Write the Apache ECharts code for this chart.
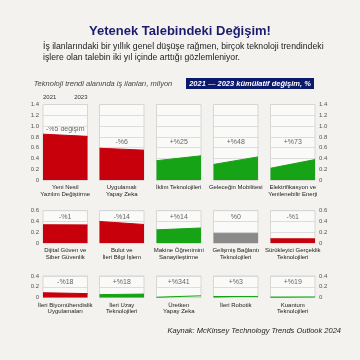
<!DOCTYPE html>
<html><head><meta charset="utf-8">
<script src="https://cdn.jsdelivr.net/npm/echarts@6/dist/echarts.min.js"></script>
<style>html,body{margin:0;padding:0;background:#f3f2ef;}#c{width:360px;height:360px;}</style>
</head><body><div id="c"></div>
<script>
const years = ['2021', '2023'];
const categories = [
  'Yeni Nesil\nYazılım Değiştirme', 'Uygulamalı\nYapay Zeka', 'İklim Teknolojileri', 'Geleceğin Mobilitesi', 'Elektrifikasyon ve\nYenilenebilir Enerji',
  'Dijital Güven ve\nSiber Güvenlik', 'Bulut ve\nİleri Bilgi İşlem', 'Makine Öğrenimini\nSanayileştirme', 'Gelişmiş Bağlantı\nTeknolojileri', 'Sürükleyici Gerçeklik\nTeknolojileri',
  'İleri Biyomühendislik\nUygulamaları', 'İleri Uzay\nTeknolojileri', 'Üretken\nYapay Zeka', 'İleri Robotik', 'Kuantum\nTeknolojileri'
];
const postings2021 = [0.85, 0.59, 0.36, 0.29, 0.22, 0.34, 0.40, 0.245, 0.18, 0.08, 0.09, 0.055, 0.0075, 0.02, 0.01];
const postings2023 = [0.81, 0.555, 0.45, 0.43, 0.38, 0.337, 0.345, 0.28, 0.18, 0.079, 0.074, 0.065, 0.033, 0.021, 0.012];
const changePct = [-5, -6, 25, 48, 73, -1, -14, 14, 0, -1, -18, 18, 341, 3, 19];
const rowMax = [1.4, 0.6, 0.4];

const FONT = "'Liberation Sans Narrow','Liberation Sans',Arial,sans-serif";
const colLeft = [43, 99.5, 156.5, 213.5, 270.5];
const panelW = 44.5;
const rowTop = [104.5, 210.7, 276];
const pxPerStep = 10.8;
const RED = '#c8000b', GREEN = '#16a316', GREY = '#8a8a8a';

const grid = [], xAxis = [], yAxis = [], series = [], graphic = [];

for (let i = 0; i < categories.length; i++) {
  const r = Math.floor(i / 5), c = i % 5;
  const h = rowMax[r] / 0.2 * pxPerStep;
  const top = rowTop[r];
  grid.push({left: colLeft[c], top: top, width: panelW, height: h, show: true,
    borderColor: '#cfcfcf', borderWidth: 0.8, backgroundColor: '#fafaf8'});
  xAxis.push({gridIndex: i, type: 'category', data: years, boundaryGap: false,
    position: 'top',
    axisLine: {show: false}, axisTick: {show: false},
    axisLabel: {show: i === 0, fontSize: 6, color: '#333', fontFamily: FONT, margin: 4,
      alignMinLabel: 'left', alignMaxLabel: 'right'},
    splitLine: {show: false}});
  const showY = (c === 0 || c === 4);
  yAxis.push({gridIndex: i, type: 'value', min: 0, max: rowMax[r], interval: 0.2,
    position: c === 4 ? 'right' : 'left',
    axisLine: {show: false}, axisTick: {show: false},
    axisLabel: {show: showY, fontSize: 6, color: '#555', fontFamily: FONT, margin: 4,
      formatter: v => v === 0 ? '0' : v.toFixed(1)},
    splitLine: {show: true, lineStyle: {color: '#d6d6d6', width: 0.8}}});
  const ch = changePct[i];
  const col = ch > 0 ? GREEN : (ch < 0 ? RED : GREY);
  series.push({type: 'line', xAxisIndex: i, yAxisIndex: i, data: [postings2021[i], postings2023[i]],
    symbol: 'none', silent: true, lineStyle: {color: col, width: 1}, areaStyle: {color: col, opacity: 1}});
  const lbl = (ch > 0 ? '+' : (ch < 0 ? '-' : '')) + '%' + Math.abs(ch) + (i === 0 ? ' değişim' : '');
  const ly = r === 0 ? (i === 0 ? top + 24.5 : top + 38) : top + 6.5;
  graphic.push({type: 'text', x: colLeft[c] + panelW / 2, y: ly, silent: true,
    style: {text: lbl, fill: '#666', font: '7px ' + FONT, align: 'center', verticalAlign: 'middle'}});
  graphic.push({type: 'text', x: colLeft[c] + panelW / 2, y: top + h + 4, silent: true,
    style: {text: categories[i], fill: '#222', font: '6px ' + FONT, align: 'center', verticalAlign: 'top', lineHeight: 6.5}});
}

graphic.push(
  {type: 'text', x: 180, y: 31, style: {text: 'Yetenek Talebindeki Değişim!', fill: '#1c1c6e',
    font: 'bold 13px ' + FONT, align: 'center', verticalAlign: 'middle'}},
  {type: 'text', x: 43, y: 47, style: {text: 'İş ilanlarındaki bir yıllık genel düşüşe rağmen, birçok teknoloji trendindeki',
    fill: '#1a1a1a', font: '8.7px ' + FONT, align: 'left', verticalAlign: 'middle'}},
  {type: 'text', x: 43, y: 58, style: {text: 'işlere olan talebin iki yıl içinde arttığı gözlemleniyor.',
    fill: '#1a1a1a', font: '8.7px ' + FONT, align: 'left', verticalAlign: 'middle'}},
  {type: 'text', x: 103, y: 84, style: {text: 'Teknoloji trendi alanında iş ilanları, milyon',
    fill: '#444', font: 'italic 7.5px ' + FONT, align: 'center', verticalAlign: 'middle'}},
  {type: 'rect', shape: {x: 186, y: 78, width: 128, height: 11}, style: {fill: '#0c1a6b'}},
  {type: 'text', x: 250, y: 83.5, style: {text: '2021 — 2023 kümülatif değişim, %',
    fill: '#fff', font: 'italic bold 7.5px ' + FONT, align: 'center', verticalAlign: 'middle'}},
  {type: 'text', x: 341, y: 331, style: {text: 'Kaynak: McKinsey Technology Trends Outlook 2024',
    fill: '#222', font: 'italic 7.5px ' + FONT, align: 'right', verticalAlign: 'middle'}}
);

const chart = echarts.init(document.getElementById('c'), null, {renderer: 'canvas'});
chart.setOption({backgroundColor: '#f3f2ef', animation: false, grid, xAxis, yAxis, series, graphic});
</script></body></html>
